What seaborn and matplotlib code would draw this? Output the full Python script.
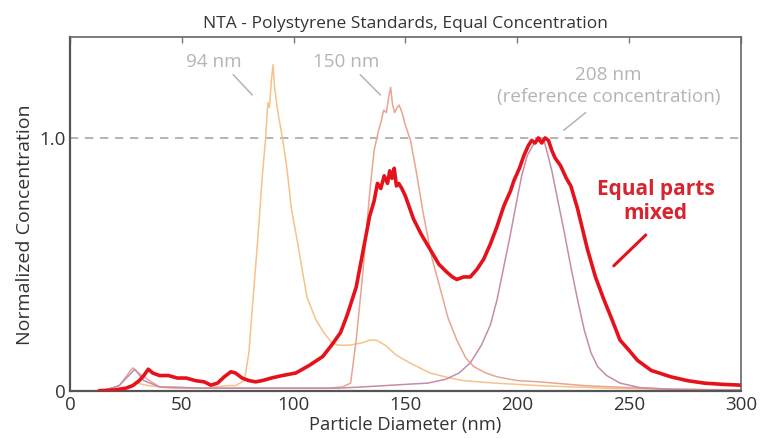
import numpy as np
import pandas as pd
import matplotlib
matplotlib.use("Agg")
import matplotlib.pyplot as plt
import seaborn as sns

# 94 nm standard
nm94_x = [15, 25, 30, 35, 45, 60, 70, 74, 78, 80, 82, 84, 86, 87.5, 88.5, 89.2, 90, 90.8, 91.5, 93, 95, 97, 99,
          101.5, 104, 106, 110, 113.5, 117, 120, 125, 131, 134, 137, 141, 146, 152, 161, 170, 176, 190, 210,
          240, 270, 300]
nm94_y = [0, 0.01, 0.03, 0.02, 0.01, 0.01, 0.02, 0.02, 0.04, 0.15, 0.38, 0.6, 0.85, 1.0, 1.14, 1.12, 1.22, 1.29,
          1.2, 1.1, 1.0, 0.88, 0.72, 0.6, 0.47, 0.37, 0.28, 0.23, 0.19, 0.18, 0.18, 0.19, 0.2, 0.2, 0.18, 0.14,
          0.11, 0.07, 0.05, 0.04, 0.03, 0.02, 0.01, 0.005, 0.003]

# 150 nm standard
nm150_x = [15, 22, 28, 32, 40, 60, 80, 100, 115, 122, 125.5, 128, 131, 134, 136, 138, 139, 140.3, 141.5, 142.5,
           143.4, 144.3, 145.2, 146.3, 147.2, 148.5, 150, 152.3, 155, 158, 162, 165.7, 169, 173, 177, 180.6,
           186, 191, 200, 210, 230, 250, 270, 300]
nm150_y = [0, 0.02, 0.09, 0.06, 0.015, 0.01, 0.01, 0.01, 0.01, 0.015, 0.03, 0.2, 0.47, 0.78, 0.95, 1.03, 1.06,
           1.11, 1.10, 1.16, 1.20, 1.13, 1.10, 1.12, 1.13, 1.10, 1.05, 0.99, 0.86, 0.70, 0.52, 0.40, 0.29, 0.2,
           0.13, 0.095, 0.07, 0.055, 0.04, 0.035, 0.02, 0.012, 0.006, 0.003]

# 208 nm standard (reference concentration)
nm208_x = [15, 22, 29, 33, 40, 60, 80, 100, 120, 131, 150, 160, 168, 174, 179, 184, 188, 191, 194, 197, 200,
           202, 204.5, 207, 209, 210.5, 212, 213.5, 215.5, 218, 221, 224, 227, 230, 233, 236, 240, 246, 255,
           270, 300]
nm208_y = [0, 0.02, 0.085, 0.04, 0.015, 0.01, 0.01, 0.01, 0.01, 0.015, 0.025, 0.03, 0.045, 0.07, 0.11, 0.18,
           0.26, 0.36, 0.49, 0.62, 0.76, 0.85, 0.93, 0.97, 0.99, 0.98, 0.99, 0.94, 0.87, 0.76, 0.63, 0.49, 0.36,
           0.24, 0.15, 0.095, 0.06, 0.03, 0.012, 0.005, 0.002]

# equal parts mixed
mix_x = [13, 20, 25, 28, 31, 33, 35, 37, 40, 44, 48, 52, 56, 60, 63, 66, 69, 72, 74, 77, 80, 83, 86, 90, 95,
         101, 107, 113, 117, 121, 124, 128, 131, 134, 136, 137.5, 139, 140.5, 142, 143, 144, 145, 146, 147,
         148.4, 150, 153.6, 157, 161, 165, 168.4, 171, 173, 176, 179, 182, 185, 188, 191, 194, 197, 198.5, 201,
         203, 205, 206.5, 208, 209.5, 211, 212.5, 214, 215.5, 217, 219.4, 222, 224, 227, 231.4, 235, 238.8, 242,
         246, 250, 253.8, 260, 268.7, 276, 283.6, 292, 300]
mix_y = [0, 0.003, 0.01, 0.02, 0.04, 0.06, 0.085, 0.07, 0.06, 0.06, 0.05, 0.05, 0.04, 0.035, 0.022, 0.03, 0.055,
         0.075, 0.07, 0.05, 0.04, 0.035, 0.04, 0.05, 0.06, 0.07, 0.1, 0.135, 0.18, 0.23, 0.3, 0.41, 0.55, 0.69,
         0.75, 0.82, 0.80, 0.85, 0.82, 0.87, 0.84, 0.88, 0.81, 0.82, 0.80, 0.77, 0.68, 0.62, 0.56, 0.5, 0.47,
         0.45, 0.44, 0.45, 0.45, 0.48, 0.52, 0.58, 0.65, 0.73, 0.79, 0.83, 0.88, 0.93, 0.97, 0.99, 0.98, 1.0,
         0.98, 1.0, 0.99, 0.95, 0.92, 0.89, 0.84, 0.81, 0.72, 0.56, 0.45, 0.36, 0.29, 0.2, 0.16, 0.12, 0.08,
         0.055, 0.04, 0.03, 0.025, 0.022]

x_ticks = [0, 50, 100, 150, 200, 250, 300]
y_ticks = [0, 1.0]
y_tick_labels = ["0", "1.0"]

sns.set_style("white")
plt.rcParams['font.family'] = ['Open Sans', 'DejaVu Sans']

fig = plt.figure(figsize=(7.71, 4.38), dpi=100)
ax = fig.add_axes([0.0908, 0.108, 0.870, 0.808])

ax.axhline(1.0, color='#a8a8a8', lw=1.2, ls=(0, (5, 4)), zorder=1)

sns.lineplot(x=nm94_x, y=nm94_y, ax=ax, color='#f6c28a', lw=1.1, sort=False, estimator=None, zorder=2)
sns.lineplot(x=nm150_x, y=nm150_y, ax=ax, color='#e8a591', lw=1.1, sort=False, estimator=None, zorder=2)
sns.lineplot(x=nm208_x, y=nm208_y, ax=ax, color='#c58ca8', lw=1.1, sort=False, estimator=None, zorder=2)
sns.lineplot(x=mix_x, y=mix_y, ax=ax, color='#e5121b', lw=2.6, sort=False, estimator=None, zorder=3)

ax.set_xlim(0, 300)
ax.set_ylim(0, 1.4)
ax.set_xticks(x_ticks)
ax.set_yticks(y_ticks)
ax.set_yticklabels(y_tick_labels)
ax.tick_params(axis='both', direction='in', length=4, width=1, color='#777777',
               labelsize=13.5, labelcolor='#333333', top=True)
ax.tick_params(axis='x', pad=4)
ax.tick_params(axis='y', pad=3)
for side in ['left', 'bottom']:
    ax.spines[side].set_color('#555555')
    ax.spines[side].set_linewidth(1.6)
for side in ['top', 'right']:
    ax.spines[side].set_color('#666666')
    ax.spines[side].set_linewidth(1.2)

ax.set_xlabel("Particle Diameter (nm)", fontsize=13.2, color='#333333', labelpad=1)
ax.set_ylabel("Normalized Concentration", fontsize=14, color='#333333')
ax.yaxis.set_label_coords(-0.054, 0.47)
ax.set_title("NTA - Polystyrene Standards, Equal Concentration", fontsize=12.5, color='#333333', pad=6)

grey = '#b4b4b4'
ax.text(64.2, 1.30, "94 nm", ha='center', va='center', fontsize=13.6, color=grey)
ax.plot([73, 81.5], [1.25, 1.17], color=grey, lw=1.1)
ax.text(123.6, 1.30, "150 nm", ha='center', va='center', fontsize=13.6, color=grey)
ax.plot([129.8, 138.8], [1.25, 1.17], color=grey, lw=1.1)
ax.text(240.9, 1.247, "208 nm", ha='center', va='center', fontsize=13.6, color=grey)
ax.text(240.9, 1.16, "(reference concentration)", ha='center', va='center', fontsize=13.6, color=grey)
ax.plot([230.6, 220.8], [1.10, 1.03], color=grey, lw=1.1)

red_txt = '#d8242e'
ax.text(261.9, 0.795, "Equal parts", ha='center', va='center', fontsize=15, fontweight='bold', color=red_txt)
ax.text(261.9, 0.70, "mixed", ha='center', va='center', fontsize=15, fontweight='bold', color=red_txt)
ax.plot([257.5, 243.2], [0.616, 0.494], color='#e5121b', lw=2.2)

fig.savefig("out.png", dpi=100)
